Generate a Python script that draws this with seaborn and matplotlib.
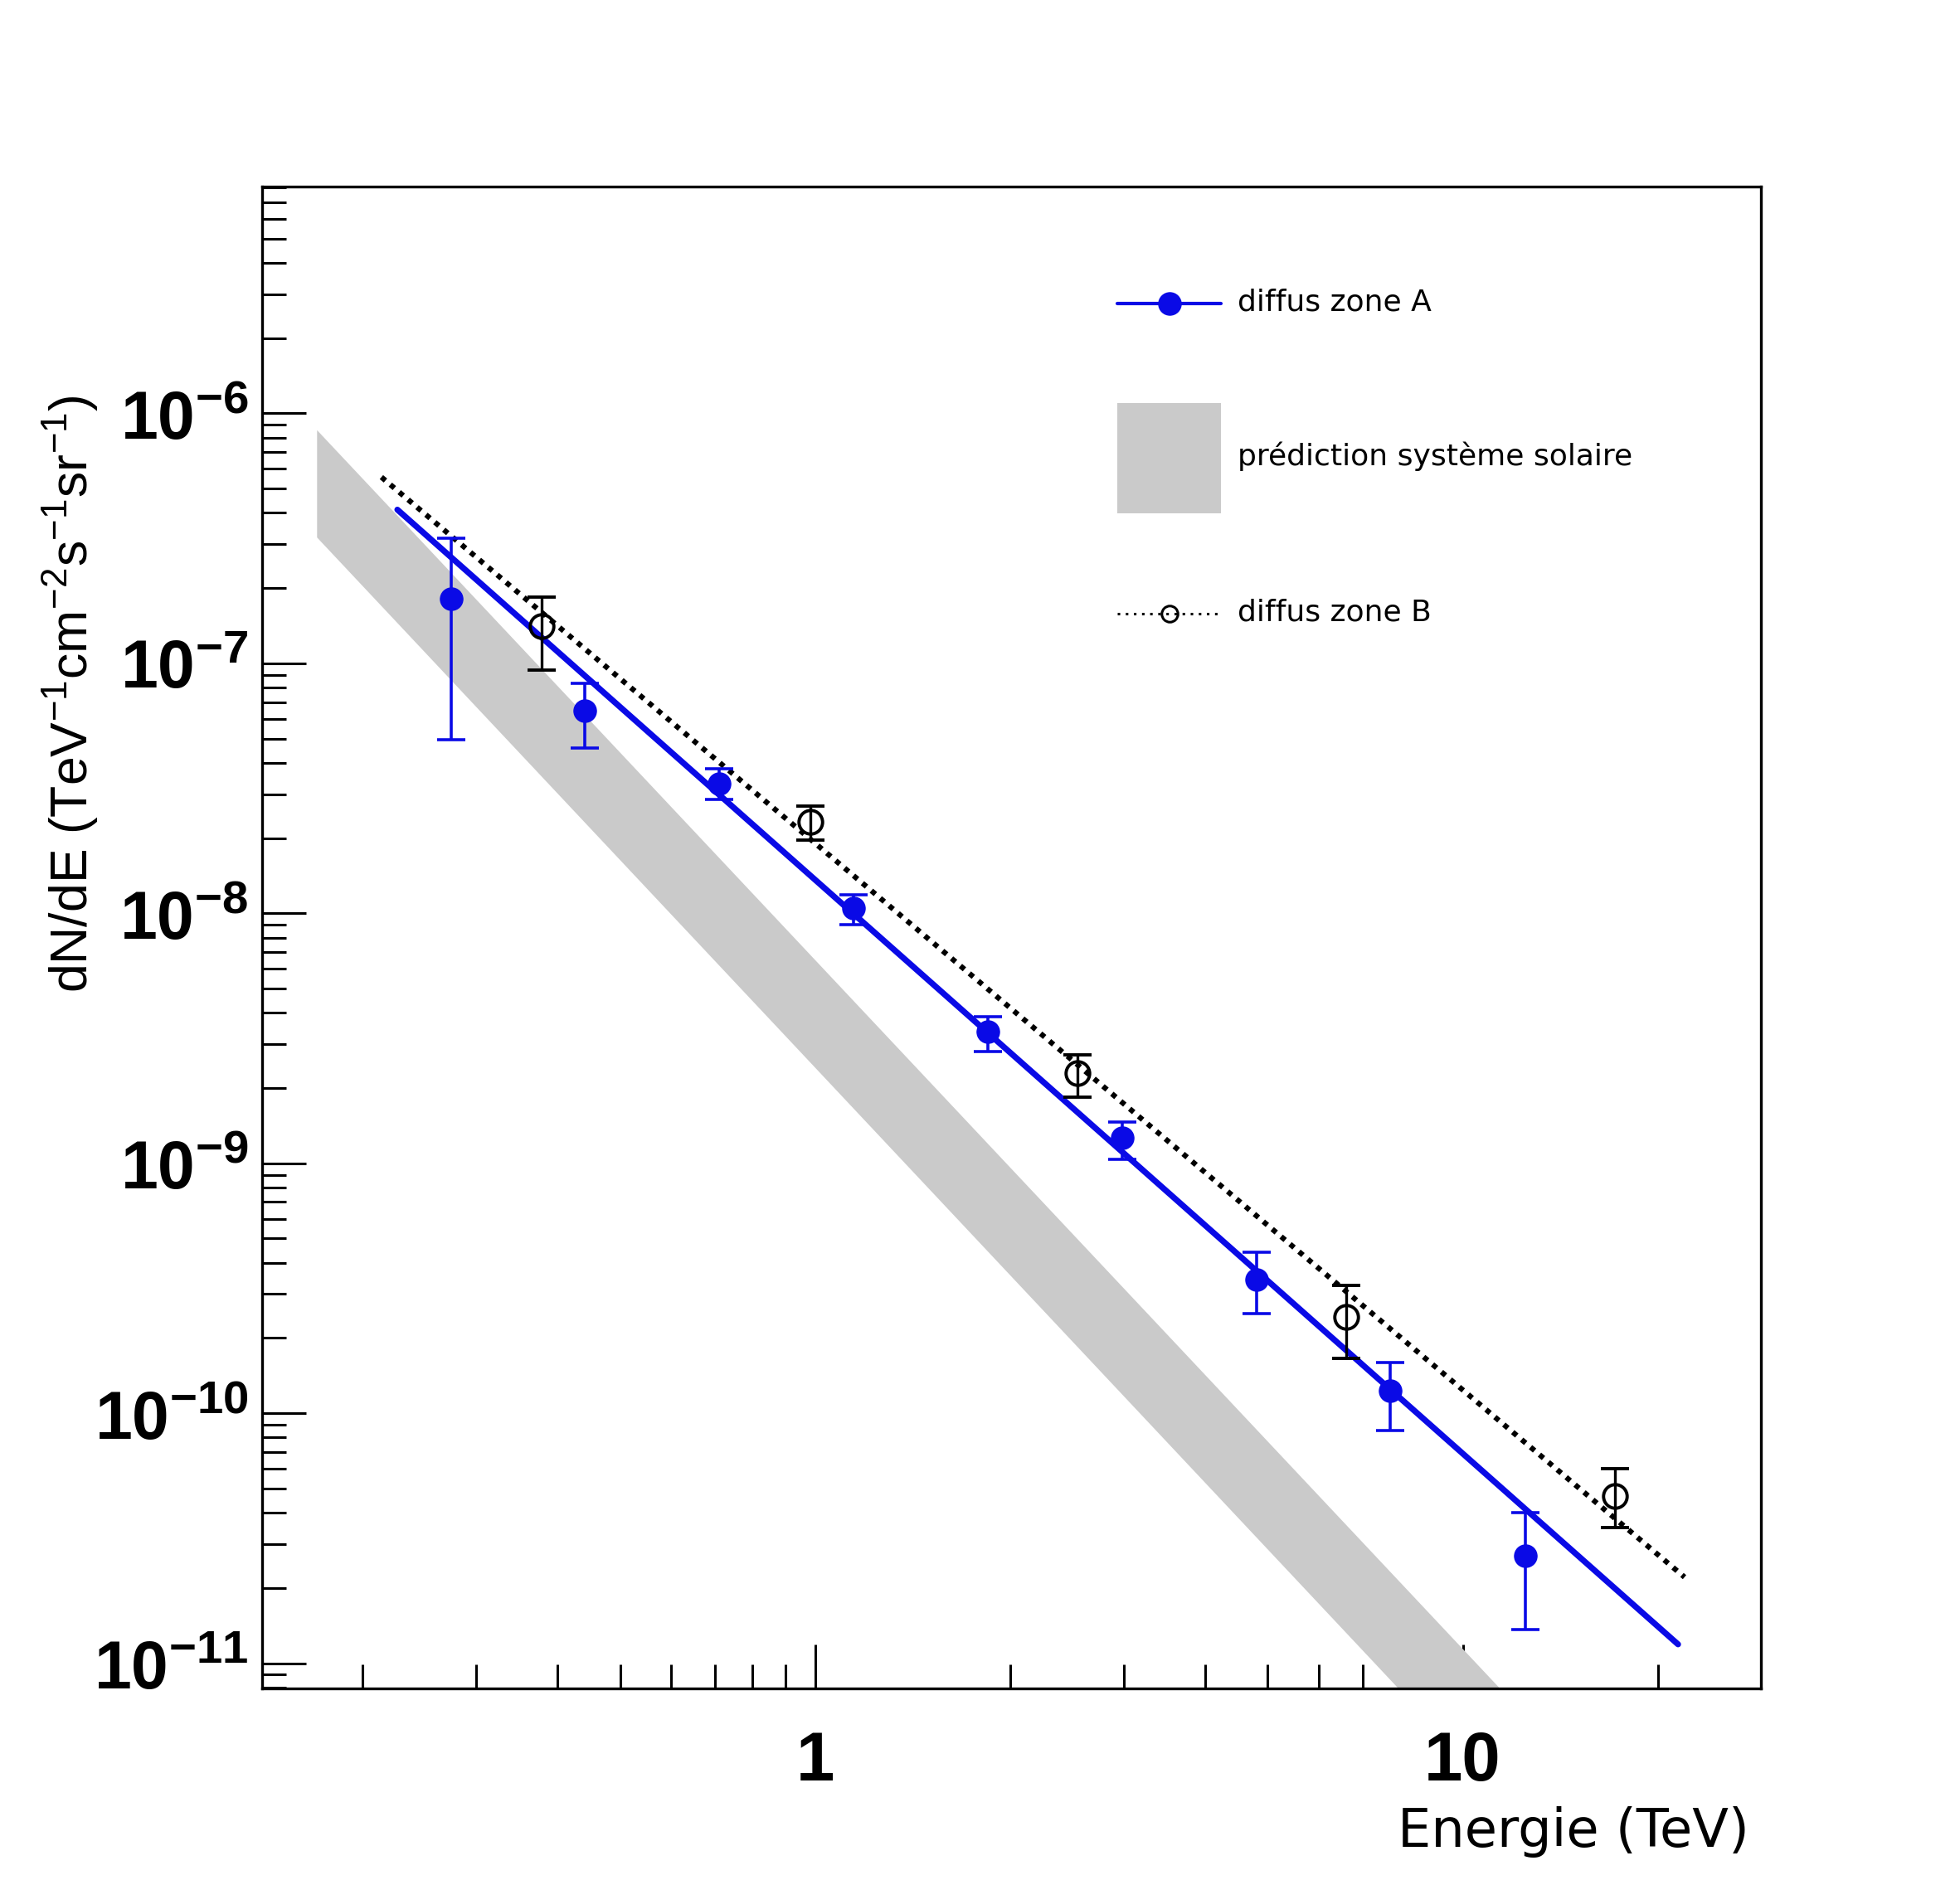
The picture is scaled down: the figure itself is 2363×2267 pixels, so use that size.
import numpy as np
import matplotlib
matplotlib.use("Agg")
import matplotlib.pyplot as plt
from matplotlib.lines import Line2D
from matplotlib.patches import Patch
from matplotlib.legend_handler import HandlerLine2D
from matplotlib.ticker import LogLocator, NullFormatter
import seaborn as sns

# --- data ---
# diffus zone A (filled blue points, asymmetric errors)
energy_a = [0.274, 0.441, 0.710, 1.148, 1.847, 2.98, 4.80, 7.73, 12.49]
flux_a = [1.82e-7, 6.45e-8, 3.3e-8, 1.05e-8, 3.35e-9, 1.26e-9, 3.43e-10, 1.23e-10, 2.69e-11]
flux_a_hi = [3.16e-7, 8.3e-8, 3.8e-8, 1.19e-8, 3.85e-9, 1.46e-9, 4.4e-10, 1.6e-10, 4.0e-11]
flux_a_lo = [4.95e-8, 4.6e-8, 2.85e-8, 9.0e-9, 2.79e-9, 1.04e-9, 2.5e-10, 8.5e-11, 1.36e-11]

# diffus zone B (open black points)
energy_b = [0.378, 0.982, 2.54, 6.61, 17.2]
flux_b = [1.41e-7, 2.32e-8, 2.29e-9, 2.43e-10, 4.68e-11]
flux_b_hi = [1.84e-7, 2.69e-8, 2.72e-9, 3.24e-10, 6.0e-11]
flux_b_lo = [9.4e-8, 1.97e-8, 1.84e-9, 1.66e-10, 3.5e-11]

# power-law fits (end points)
fit_a_energy = [0.2265, 21.5]
fit_a_flux = [4.12e-7, 1.19e-11]
fit_b_energy = [0.214, 22.0]
fit_b_flux = [5.56e-7, 2.21e-11]

# solar system prediction band
band_energy = [0.17, 12.0]
band_upper = [8.6e-7, 6.9e-12]
band_lower = [3.2e-7, 2.55e-12]

y_ticks = [1e-11, 1e-10, 1e-9, 1e-8, 1e-7, 1e-6]
y_tick_labels = [r"$\mathbf{10^{-11}}$", r"$\mathbf{10^{-10}}$", r"$\mathbf{10^{-9}}$",
                 r"$\mathbf{10^{-8}}$", r"$\mathbf{10^{-7}}$", r"$\mathbf{10^{-6}}$"]
x_ticks = [1, 10]
x_tick_labels = ["1", "10"]

labels = ["diffus zone A", "prédiction système solaire", "diffus zone B"]

blue = "#0a0ae6"
band_color = "#cacaca"

sns.set_theme(style="white")
plt.rcParams["font.family"] = ["DejaVu Sans"]
plt.rcParams["text.color"] = "black"
plt.rcParams["axes.labelcolor"] = "black"
plt.rcParams["xtick.color"] = "black"
plt.rcParams["ytick.color"] = "black"
plt.rcParams["mathtext.fontset"] = "custom"
plt.rcParams["mathtext.rm"] = "Liberation Sans"
plt.rcParams["mathtext.bf"] = "Liberation Sans:bold"
plt.rcParams["mathtext.it"] = "Liberation Sans:italic"
plt.rcParams["mathtext.sf"] = "Liberation Sans"


class CenteredLine(HandlerLine2D):
    # put the legend line in the middle of the (tall) handle box
    def create_artists(self, legend, orig_handle, xdescent, ydescent,
                       width, height, fontsize, trans):
        arts = super().create_artists(legend, orig_handle, xdescent, ydescent,
                                      width, height, fontsize, trans)
        for a in arts:
            a.set_ydata(np.full_like(np.asarray(a.get_xdata(), float), height / 2 - ydescent))
        return arts


fig = plt.figure(figsize=(23.63, 22.67), dpi=100)
ax = fig.add_axes([0.1337, 0.1017, 0.7649, 0.7992])
ax.set_xscale("log")
ax.set_yscale("log")

# band
ax.fill_between(band_energy, band_lower, band_upper, color=band_color, lw=0, zorder=1)

# fit lines
sns.lineplot(x=fit_b_energy, y=fit_b_flux, ax=ax, color="black", linewidth=4.6,
             linestyle=(0, (1, 1.2)), zorder=2)
sns.lineplot(x=fit_a_energy, y=fit_a_flux, ax=ax, color=blue, linewidth=5.2, zorder=3)

# points
fa = np.array(flux_a)
ax.errorbar(energy_a, fa, yerr=[fa - np.array(flux_a_lo), np.array(flux_a_hi) - fa],
            fmt="o", color=blue, ms=19.5, elinewidth=2.6, capsize=12, capthick=2.6,
            mec=blue, zorder=5)
fb = np.array(flux_b)
ax.errorbar(energy_b, fb, yerr=[fb - np.array(flux_b_lo), np.array(flux_b_hi) - fb],
            fmt="o", color="black", ms=20.5, mfc="none", mew=2.8, elinewidth=2.4,
            capsize=12, capthick=2.4, zorder=4)

ax.set_xlim(0.14, 28.9)
ax.set_ylim(7.9e-12, 8.1e-6)

# ticks
ax.set_xticks(x_ticks)
ax.set_xticklabels(x_tick_labels, fontweight="bold", fontfamily="Liberation Sans", fontsize=60)
ax.xaxis.set_minor_locator(LogLocator(base=10, subs=np.arange(2, 10), numticks=100))
ax.xaxis.set_minor_formatter(NullFormatter())
ax.set_yticks(y_ticks)
ax.set_yticklabels(y_tick_labels, fontsize=58)
ax.yaxis.set_minor_locator(LogLocator(base=10, subs=np.arange(2, 10), numticks=100))
ax.yaxis.set_minor_formatter(NullFormatter())
ax.tick_params(which="both", direction="in", color="black", width=2.2,
               top=False, right=False, bottom=True, left=True)
ax.tick_params(which="major", length=38)
ax.tick_params(which="minor", length=21)
ax.tick_params(axis="x", which="major", pad=36)
ax.tick_params(axis="y", which="major", pad=12)

for s in ax.spines.values():
    s.set_color("black")
    s.set_linewidth(2.4)

# axis titles
fig.text(0.8925, 0.0176, "Energie (TeV)", ha="right", va="baseline", fontsize=46,
         fontfamily="DejaVu Sans", color="black")
fig.text(0.036, 0.631, r"dN/dE (TeV$^{-1}$cm$^{-2}$s$^{-1}$sr$^{-1}$)", rotation=90,
         ha="center", va="center", fontsize=45, fontfamily="Liberation Sans", color="black")

# legend
handles = [
    Line2D([], [], color=blue, lw=3, marker="o", ms=19.5, mfc=blue, mec=blue),
    Patch(facecolor=band_color, edgecolor="none"),
    Line2D([], [], color="black", lw=2.2, linestyle=(0, (1, 2.2)), marker="o", ms=14,
           mfc="none", mec="black", mew=2.2),
]
ax.legend(handles, labels, loc="upper left", bbox_to_anchor=(0.5706, 0.9589),
          frameon=False, fontsize=26, borderpad=0, borderaxespad=0,
          handlelength=3.46, handleheight=5.29, handletextpad=0.55,
          labelspacing=1.5, numpoints=1, handler_map={Line2D: CenteredLine()})

fig.savefig("out.png", dpi=100, facecolor="white")
